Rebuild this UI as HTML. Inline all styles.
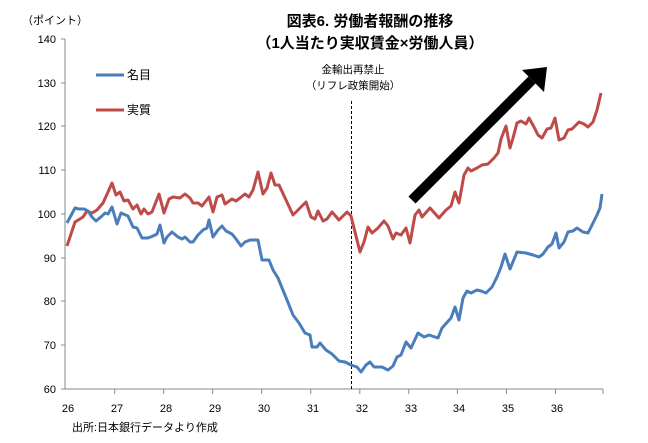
<!DOCTYPE html>
<html><head><meta charset="utf-8"><style>
body{margin:0;background:#fff;}
svg{display:block;font-family:"Liberation Sans","Noto Sans CJK JP",sans-serif;}
</style></head><body>
<svg width="648" height="443" viewBox="0 0 648 443" xmlns="http://www.w3.org/2000/svg">
<rect width="648" height="443" fill="#fff"/>
<text x="22" y="24" font-size="11" fill="#000">（ポイント）</text>
<text x="370" y="26" font-size="15" font-weight="bold" text-anchor="middle" fill="#000">図表6. 労働者報酬の推移</text>
<text x="370" y="48" font-size="15" font-weight="bold" text-anchor="middle" fill="#000">（1人当たり実収賃金×労働人員）</text>
<g stroke="#888" stroke-width="1">
<line x1="65" y1="39" x2="65" y2="389"/>
<line x1="65" y1="389" x2="603" y2="389"/>
<line x1="61" y1="39" x2="65" y2="39"/><line x1="61" y1="83" x2="65" y2="83"/><line x1="61" y1="126" x2="65" y2="126"/><line x1="61" y1="170" x2="65" y2="170"/><line x1="61" y1="214" x2="65" y2="214"/><line x1="61" y1="258" x2="65" y2="258"/><line x1="61" y1="301" x2="65" y2="301"/><line x1="61" y1="345" x2="65" y2="345"/><line x1="61" y1="389" x2="65" y2="389"/>
<line x1="114.7" y1="389" x2="114.7" y2="394"/><line x1="163.7" y1="389" x2="163.7" y2="394"/><line x1="212.7" y1="389" x2="212.7" y2="394"/><line x1="261.7" y1="389" x2="261.7" y2="394"/><line x1="310.8" y1="389" x2="310.8" y2="394"/><line x1="359.8" y1="389" x2="359.8" y2="394"/><line x1="408.8" y1="389" x2="408.8" y2="394"/><line x1="457.4" y1="389" x2="457.4" y2="394"/><line x1="506.4" y1="389" x2="506.4" y2="394"/><line x1="555.5" y1="389" x2="555.5" y2="394"/><line x1="603" y1="389" x2="603" y2="394"/>
</g>
<g font-size="11" fill="#000" text-anchor="end">
<text x="56" y="43">140</text><text x="56" y="87">130</text><text x="56" y="130">120</text><text x="56" y="174">110</text><text x="56" y="218">100</text><text x="56" y="262">90</text><text x="56" y="305">80</text><text x="56" y="349">70</text><text x="56" y="393">60</text>
</g>
<g font-size="11" fill="#000" text-anchor="middle">
<text x="68" y="412">26</text><text x="117" y="412">27</text><text x="166" y="412">28</text><text x="215" y="412">29</text><text x="264" y="412">30</text><text x="313" y="412">31</text><text x="362" y="412">32</text><text x="411" y="412">33</text><text x="459" y="412">34</text><text x="508" y="412">35</text><text x="557" y="412">36</text>
</g>
<text x="72" y="431" font-size="11" fill="#000">出所:日本銀行データより作成</text>
<line x1="96" y1="75" x2="124" y2="75" stroke="#4a7ebb" stroke-width="3"/>
<text x="127" y="79" font-size="12" fill="#000">名目</text>
<line x1="96" y1="110" x2="124" y2="110" stroke="#be4b48" stroke-width="3"/>
<text x="127" y="114" font-size="12" fill="#000">実質</text>
<text x="353" y="73" font-size="10.5" text-anchor="middle" fill="#000">金輸出再禁止</text>
<text x="353" y="89" font-size="10.5" text-anchor="middle" fill="#000">（リフレ政策開始）</text>
<line x1="351.5" y1="101" x2="351.5" y2="389" stroke="#000" stroke-width="1" stroke-dasharray="3,2"/>
<line x1="412" y1="200" x2="532" y2="80" stroke="#000" stroke-width="10"/>
<polygon points="547,67 522,70 544,92" fill="#000"/>
<polyline fill="none" stroke="#be4b48" stroke-width="3" stroke-linejoin="round" points="67,246 75,222 83,217 87,211 92,213 97,210 103,203 108,192 112,183 116,195 120,192 124,201 128,200 133,209 137,205 141,214 144,209 148,214 152,212 159,194 164,213 169,199 173,197 180,198 185,194 190,198 193,203 198,203 202,206 209,197 213,212 217,197 222,195 225,204 232,199 236,201 240,198 245,194 249,197 253,190 258,172 263,194 267,188 271,173 275,185 279,185 293,215 306,202 311,217 315,219 318,211 323,221 327,219 332,212 339,220 347,212 351,216 360,252 364,242 368,227 372,233 378,228 384,221 388,226 393,239 396,233 401,235 406,228 410,243 415,215 419,210 422,217 430,208 439,218 446,210 451,206 455,192 459,203 464,175 468,168 471,171 477,168 482,165 488,164 494,158 498,153 501,139 506,126 510,148 513,138 517,123 521,121 526,124 529,118 534,127 538,135 542,138 547,129 551,128 555,118 559,140 564,138 568,130 572,129 579,122 584,124 588,127 593,122 597,110 601,93"/>
<polyline fill="none" stroke="#4a7ebb" stroke-width="3" stroke-linejoin="round" points="67,223 75,208 79,209 84,209 88,211 92,217 96,221 102,216 105,213 108,214 112,207 117,224 121,213 128,216 133,227 137,228 142,238 148,238 153,236 157,234 160,225 164,243 167,237 172,232 178,237 182,239 185,237 190,242 193,242 198,235 203,230 207,228 209,220 213,237 218,230 222,226 226,231 232,234 236,239 241,246 245,242 250,240 258,240 262,260 269,260 273,270 278,278 287,300 293,315 299,323 305,333 310,335 312,347 317,347 320,343 326,350 332,354 339,361 345,362 351,365 357,367 361,372 366,365 370,362 374,367 382,367 388,370 393,366 397,357 401,355 406,342 411,348 418,333 424,337 429,335 438,338 442,328 451,318 455,307 459,320 463,298 467,291 471,293 477,290 481,291 486,293 492,287 497,277 501,267 505,254 510,269 517,252 526,253 533,255 539,257 543,254 548,247 552,244 556,233 559,248 564,242 568,232 573,231 577,228 583,232 588,233 593,223 597,215 600,208 602,194"/>
</svg>
</body></html>
